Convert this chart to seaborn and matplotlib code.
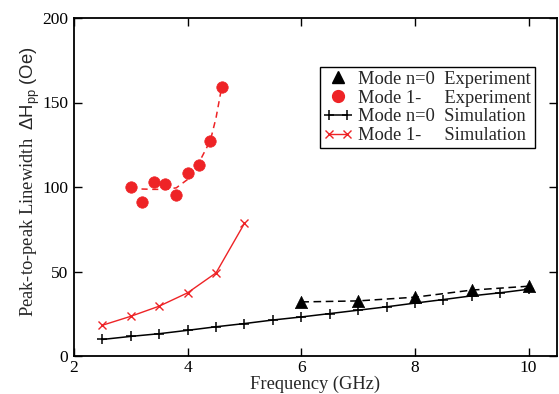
import matplotlib
matplotlib.use("Agg")
import matplotlib.pyplot as plt
import seaborn as sns
from matplotlib.lines import Line2D
from matplotlib.legend_handler import HandlerLine2D

# ---- data ----
exp_n0_freq = [6, 7, 8, 9, 10]
exp_n0_lw = [32.0, 32.6, 34.8, 39.0, 41.3]

exp_m1_freq = [3.0, 3.2, 3.4, 3.6, 3.8, 4.0, 4.2, 4.4, 4.6]
exp_m1_lw = [100.0, 91.3, 103.1, 101.8, 95.4, 108.1, 113.2, 127.0, 159.2]

fit_m1_freq = [3.0, 3.2, 3.4, 3.6, 3.8, 4.0, 4.2, 4.4, 4.5, 4.6]
fit_m1_lw = [99.0, 98.8, 98.6, 98.6, 99.5, 104.5, 114.5, 127.5, 141.0, 159.2]

sim_n0_freq = [2.5, 3.0, 3.5, 4.0, 4.5, 5.0, 5.5, 6.0, 6.5, 7.0, 7.5, 8.0, 8.5, 9.0, 9.5, 10.0]
sim_n0_lw = [9.8, 11.6, 13.2, 15.2, 17.3, 19.2, 21.3, 23.1, 25.1, 27.1, 29.1, 31.3, 33.4, 35.6, 37.4, 39.5]

sim_m1_freq = [2.5, 3.0, 3.5, 4.0, 4.5, 5.0]
sim_m1_lw = [18.2, 23.5, 29.5, 37.4, 49.2, 78.5]

legend_labels = ["Mode n=0  Experiment", "Mode 1-     Experiment",
                 "Mode n=0  Simulation", "Mode 1-     Simulation"]

RED = "#ee2326"

sns.set_theme(style="ticks")
plt.rcParams["font.family"] = ["Liberation Serif", "DejaVu Serif"]
plt.rcParams["mathtext.fontset"] = "custom"
plt.rcParams["mathtext.rm"] = "Liberation Serif"
plt.rcParams["mathtext.it"] = "Liberation Serif:italic"
plt.rcParams["mathtext.sf"] = "Liberation Sans"

fig = plt.figure(figsize=(5.59, 3.94), dpi=100)
ax = fig.add_axes([74 / 559, 1 - 356 / 394, (557 - 74) / 559, (356 - 18) / 394])

# simulation lines
sns.lineplot(x=sim_n0_freq, y=sim_n0_lw, ax=ax, color="black", lw=1.1,
             marker="+", markersize=7.5, markeredgewidth=1.1,
             markeredgecolor="black", sort=False, estimator=None)
sns.lineplot(x=sim_m1_freq, y=sim_m1_lw, ax=ax, color=RED, lw=1.0,
             marker="x", markersize=5.5, markeredgewidth=1.0,
             markeredgecolor=RED, sort=False, estimator=None)

# experiment dashed connectors
sns.lineplot(x=exp_n0_freq, y=exp_n0_lw, ax=ax, color="black", lw=1.1,
             sort=False, estimator=None, linestyle=(0, (5, 3)))
sns.lineplot(x=fit_m1_freq, y=fit_m1_lw, ax=ax, color=RED, lw=1.1,
             sort=False, estimator=None, linestyle=(0, (4, 3)))

# experiment markers
sns.scatterplot(x=exp_n0_freq, y=exp_n0_lw, ax=ax, color="black", marker="^",
                s=78, edgecolor="black", linewidth=0.5, zorder=5)
sns.scatterplot(x=exp_m1_freq, y=exp_m1_lw, ax=ax, color=RED, marker="o",
                s=68, edgecolor=RED, linewidth=0.5, zorder=5)

ax.set_xlim(2, 10.5)
ax.set_ylim(0, 200)
ax.set_xticks([2, 4, 6, 8, 10])
ax.set_yticks([0, 50, 100, 150, 200])
ax.tick_params(direction="in", top=True, right=True, length=6, width=1,
               labelsize=12.5, colors="black")
ax.tick_params(axis="x", pad=3)
ax.tick_params(axis="y", pad=4)
for s in ax.spines.values():
    s.set_linewidth(1.3)
    s.set_color("black")

ax.set_xlabel("Frequency (GHz)", fontsize=13.3, labelpad=0)
ax.set_ylabel(r"Peak-to-peak Linewidth  $\mathsf{\Delta H_{pp}\ (Oe)}$",
              fontsize=13.3)
ax.yaxis.set_label_coords(-0.066, 0.515)

handles = [
    Line2D([], [], color="black", marker="^", markersize=9, linestyle="none"),
    Line2D([], [], color=RED, marker="o", markersize=8.5, linestyle="none"),
    Line2D([], [], color="black", marker="+", markersize=7.5, markeredgewidth=1.1, lw=1.1),
    Line2D([], [], color=RED, marker="x", markersize=5.5, markeredgewidth=1.0, lw=1.0),
]
hm = {handles[0]: HandlerLine2D(numpoints=1), handles[1]: HandlerLine2D(numpoints=1)}
leg = ax.legend(handles, legend_labels, loc="upper right",
                bbox_to_anchor=((535 - 74) / (557 - 74), (356 - 67) / (356 - 18)),
                borderaxespad=0, fontsize=13.3, numpoints=2, handlelength=1.6,
                handletextpad=0.3, labelspacing=0.1, borderpad=0.2,
                fancybox=False, framealpha=1, edgecolor="black", handler_map=hm)
leg.get_frame().set_linewidth(1.0)

fig.savefig("out.png", dpi=100)
